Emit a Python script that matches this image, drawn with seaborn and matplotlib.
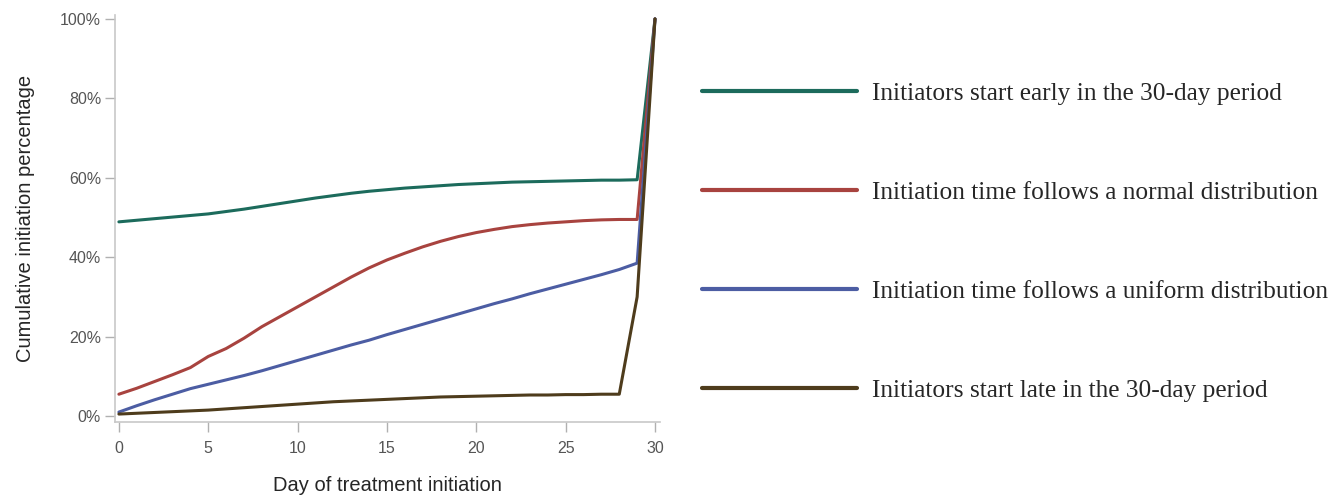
"""Cumulative initiation percentage by day of treatment initiation."""
import matplotlib

matplotlib.use("Agg")
import matplotlib.pyplot as plt
import matplotlib.ticker as mtick
import numpy as np
import pandas as pd
import seaborn as sns

# Data
days = list(range(0, 31))

early = [48.9, 49.3, 49.7, 50.1, 50.5, 50.9, 51.5, 52.1, 52.8, 53.5,
         54.2, 54.9, 55.5, 56.1, 56.6, 57.0, 57.4, 57.7, 58.0, 58.3,
         58.5, 58.7, 58.9, 59.0, 59.1, 59.2, 59.3, 59.4, 59.4, 59.5, 100.0]
normal = [5.5, 7.0, 8.7, 10.4, 12.2, 15.0, 17.0, 19.6, 22.5, 25.0,
          27.5, 30.0, 32.5, 35.0, 37.3, 39.3, 41.0, 42.6, 44.0, 45.2,
          46.2, 47.0, 47.7, 48.2, 48.6, 48.9, 49.2, 49.4, 49.5, 49.5, 100.0]
uniform = [1.0, 2.6, 4.1, 5.5, 6.9, 8.0, 9.1, 10.2, 11.4, 12.7,
           14.0, 15.3, 16.6, 17.9, 19.1, 20.5, 21.8, 23.1, 24.4, 25.7,
           27.0, 28.3, 29.5, 30.8, 32.0, 33.2, 34.4, 35.6, 36.9, 38.5, 100.0]
late = [0.5, 0.7, 0.9, 1.1, 1.3, 1.5, 1.8, 2.1, 2.4, 2.7,
        3.0, 3.3, 3.6, 3.8, 4.0, 4.2, 4.4, 4.6, 4.8, 4.9,
        5.0, 5.1, 5.2, 5.3, 5.3, 5.4, 5.4, 5.5, 5.5, 30.0, 100.0]

labels = [
    "Initiators start early in the 30-day period",
    "Initiation time follows a normal distribution",
    "Initiation time follows a uniform distribution",
    "Initiators start late in the 30-day period",
]
colors = ["#1c6b5c", "#a8433f", "#4c5da3", "#4e3c1c"]

df = pd.concat(
    [
        pd.DataFrame({"Day": days, "Pct": vals, "Scenario": lab})
        for vals, lab in zip([early, normal, uniform, late], labels)
    ]
)

sns.set_style("white")
plt.rcParams["font.family"] = ["Liberation Sans", "DejaVu Sans"]

fig = plt.figure(figsize=(13.32, 4.98), dpi=100)
ax = fig.add_axes([0.0863, 0.1526, 0.4092, 0.8174])

sns.lineplot(
    data=df, x="Day", y="Pct", hue="Scenario", hue_order=labels,
    palette=colors, linewidth=2.2, ax=ax, legend=False,
)

ax.set_xlim(-0.22, 30.28)
ax.set_ylim(-1.5, 101)
ax.set_xticks([0, 5, 10, 15, 20, 25, 30])
ax.set_yticks([0, 20, 40, 60, 80, 100])
ax.yaxis.set_major_formatter(mtick.PercentFormatter(decimals=0))

for side in ["top", "right"]:
    ax.spines[side].set_visible(False)
for side in ["left", "bottom"]:
    ax.spines[side].set_color("#c8c8c8")
    ax.spines[side].set_linewidth(1.2)

ax.tick_params(axis="both", which="major", direction="out", length=7,
               width=1, color="#b0b0b0", labelcolor="#555555", labelsize=11.5,
               bottom=True, left=True)
ax.tick_params(axis="x", pad=7)
ax.tick_params(axis="y", pad=3)

ax.set_xlabel("Day of treatment initiation", fontsize=14.5, labelpad=14)
ax.set_ylabel("Cumulative initiation percentage", fontsize=14.5, labelpad=18)

handles = [plt.Line2D([], [], color=c, linewidth=3) for c in colors]
fig.legend(
    handles, labels, loc="center left", bbox_to_anchor=(0.527, 0.514),
    frameon=False, handlelength=6.1, handletextpad=0.6, labelspacing=3.0,
    borderpad=0, borderaxespad=0,
    prop={"family": "Liberation Serif", "size": 18.3},
)

fig.savefig("out.png", dpi=100)
